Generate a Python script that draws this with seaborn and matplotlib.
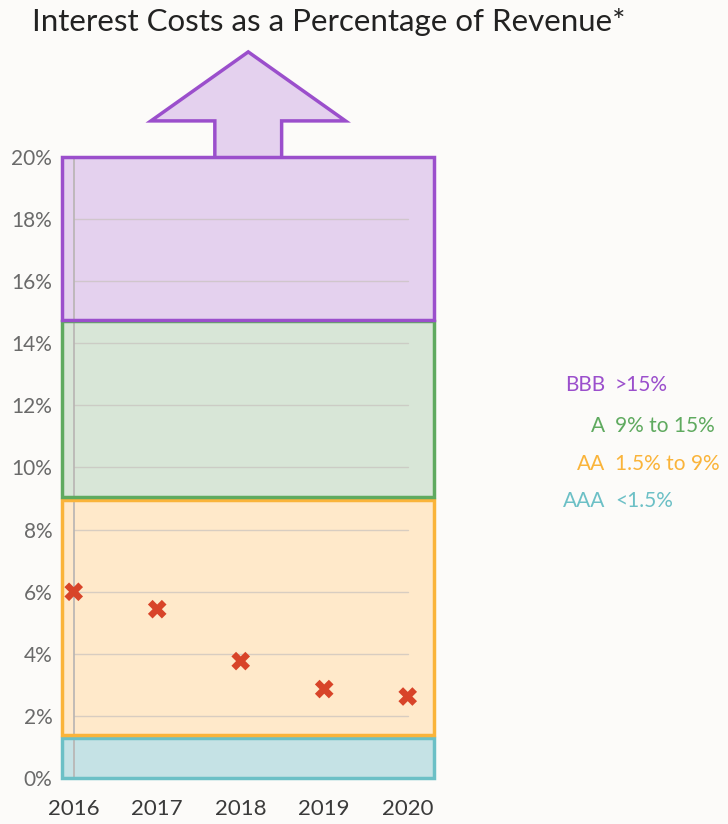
import numpy as np
import pandas as pd
import matplotlib.pyplot as plt
import seaborn as sns
from matplotlib.patches import Rectangle, Polygon
from matplotlib.ticker import FuncFormatter

# dati
years = ["2016", "2017", "2018", "2019", "2020"]
interest_pct = [6.0, 5.44, 3.77, 2.87, 2.63]

ratings = ["AAA", "AA", "A", "BBB"]
band_low = [0.0, 1.4, 9.05, 14.75]
band_high = [1.3, 8.95, 14.7, 20.0]
band_labels = ["<1.5%", "1.5% to 9%", "9% to 15%", ">15%"]
band_fill = ["#C5E2E5", "#FFE9CA", "#D8E6D7", "#E4D1EE"]
band_edge = ["#6CC0C6", "#FAB43A", "#5FAA5F", "#9B4FCC"]

bg = "#FCFBF9"

sns.set_style("white")
plt.rcParams['font.family'] = ['Lato', 'DejaVu Sans']

fig = plt.figure(figsize=(7.28, 8.24), dpi=100, facecolor=bg)
ax = fig.add_axes([0.0852, 0.0555, 0.5104, 0.7544])
ax.set_facecolor(bg)

x0, x1 = -0.14, 4.31
ax.set_xlim(x0, x1)
ax.set_ylim(0, 20)

# fasce di rating
for lo, hi, fc, ec in zip(band_low, band_high, band_fill, band_edge):
    ax.add_patch(Rectangle((x0, lo), x1 - x0, hi - lo, facecolor=fc,
                           edgecolor='none', zorder=1))
    ax.add_patch(Rectangle((x0, lo), x1 - x0, hi - lo, facecolor='none',
                           edgecolor=ec, linewidth=2.5, zorder=3, clip_on=False))

# freccia sopra la fascia BBB
top = band_high[-1]
cx = 2.09
shaft_w = 0.40
head_w = 1.165
arrow_pts = [(cx - shaft_w, top), (cx - shaft_w, top + 1.15),
             (cx - head_w, top + 1.15), (cx, top + 3.37),
             (cx + head_w, top + 1.15), (cx + shaft_w, top + 1.15),
             (cx + shaft_w, top)]
ax.add_patch(Polygon(arrow_pts, closed=True, facecolor=band_fill[-1],
                     edgecolor='none', zorder=2.5, clip_on=False))
ax.plot([p[0] for p in arrow_pts], [p[1] for p in arrow_pts],
        color=band_edge[-1], linewidth=2.5, zorder=3, clip_on=False,
        solid_joinstyle='miter')

# griglia
for gy in range(2, 21, 2):
    ax.plot([0, 4], [gy, gy], color='#C8C2BE', linewidth=1.0, alpha=0.7, zorder=2)
ax.plot([0, 0], [0, 20], color='#B8B4B2', linewidth=1.2, zorder=2)

df = pd.DataFrame({'year': np.arange(len(years)), 'pct': interest_pct})
sns.scatterplot(data=df, x='year', y='pct', marker='X', s=180,
                color='#D84429', edgecolor='none', zorder=5, ax=ax, clip_on=False)

ax.set_xticks(range(len(years)))
ax.set_xticklabels(years, fontsize=16, color='#3A3A3A')
ax.set_yticks(range(0, 21, 2))
ax.yaxis.set_major_formatter(FuncFormatter(lambda v, p: f"{v:.0f}%"))
ax.tick_params(axis='y', labelsize=15, labelcolor='#6A6A6A', length=0, pad=7)
ax.tick_params(axis='x', length=0, pad=15)
ax.set_xlabel('')
ax.set_ylabel('')
for s in ax.spines.values():
    s.set_visible(False)

# legenda testuale a destra
leg_y = [501, 464, 426, 385]
for r, lab, ec, py in zip(ratings, band_labels, band_edge, leg_y):
    fy = 1 - py / 824
    fig.text(605 / 728, fy, r, ha='right', va='center', fontsize=15, color=ec)
    fig.text(615 / 728, fy, lab, ha='left', va='center', fontsize=15, color=ec)

fig.text(32 / 728, 1 - 22 / 824, "Interest Costs as a Percentage of Revenue*",
         ha='left', va='center', fontsize=22.5, color='#222222')

fig.savefig("out.png", dpi=100, facecolor=bg)
